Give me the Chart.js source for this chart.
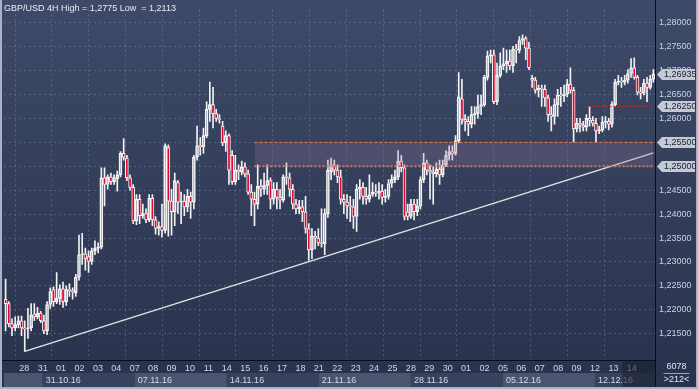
<!DOCTYPE html>
<html>
<head>
<meta charset="utf-8">
<title>GBP/USD 4H</title>
<script src="https://cdn.jsdelivr.net/npm/chart.js@4.4.1/dist/chart.umd.min.js"></script>
<style>
  html, body { margin: 0; padding: 0; background: #2a3450; }
  #chart { display: block; }
</style>
</head>
<body>
<canvas id="chart" width="698" height="389"></canvas>
<script>
// 4H candles, 28.10.16 - 14.12.16
const openP = [
  1.2222,1.2213,1.2171,1.2162,1.2169,1.2177,1.2162,1.2160,1.2162,1.2191,
  1.2185,1.2193,1.2177,1.2156,1.2211,1.2242,1.2217,1.2224,1.2244,1.2217,
  1.2242,1.2240,1.2236,1.2268,1.2315,1.2317,1.2311,1.2301,1.2323,1.2329,
  1.2331,1.2476,1.2462,1.2478,1.2468,1.2474,1.2482,1.2527,1.2517,1.2476,
  1.2456,1.2386,1.2431,1.2397,1.2401,1.2388,1.2433,1.2388,1.2370,1.2374,
  1.2366,1.2539,1.2427,1.2405,1.2466,1.2425,1.2427,1.2415,1.2437,1.2425,
  1.2519,1.2543,1.2541,1.2564,1.2619,1.2629,1.2610,1.2600,1.2584,1.2549,
  1.2564,1.2523,1.2468,1.2492,1.2488,1.2499,1.2484,1.2446,1.2431,1.2421,
  1.2458,1.2452,1.2460,1.2470,1.2431,1.2452,1.2435,1.2429,1.2478,1.2476,
  1.2452,1.2421,1.2411,1.2415,1.2405,1.2370,1.2325,1.2354,1.2350,1.2340,
  1.2338,1.2401,1.2488,1.2503,1.2492,1.2478,1.2431,1.2425,1.2417,1.2415,
  1.2395,1.2452,1.2456,1.2437,1.2431,1.2441,1.2446,1.2444,1.2448,1.2435,
  1.2437,1.2464,1.2472,1.2478,1.2511,1.2497,1.2405,1.2395,1.2421,1.2405,
  1.2417,1.2472,1.2507,1.2492,1.2488,1.2484,1.2494,1.2482,1.2503,1.2523,
  1.2531,1.2527,1.2553,1.2641,1.2598,1.2594,1.2588,1.2608,1.2610,1.2625,
  1.2629,1.2686,1.2731,1.2733,1.2635,1.2690,1.2710,1.2714,1.2720,1.2710,
  1.2745,1.2743,1.2763,1.2767,1.2747,1.2684,1.2680,1.2659,1.2663,1.2661,
  1.2643,1.2608,1.2604,1.2629,1.2649,1.2647,1.2651,1.2672,1.2659,1.2578,
  1.2590,1.2586,1.2582,1.2600,1.2596,1.2590,1.2574,1.2576,1.2592,1.2594,
  1.2588,1.2629,1.2676,1.2678,1.2676,1.2680,1.2694,1.2706,1.2686,1.2655,
  1.2653,1.2674,1.2665,1.2682
];
const highP = [
  1.2264,1.2217,1.2181,1.2185,1.2187,1.2187,1.2177,1.2203,1.2213,1.2213,
  1.2205,1.2197,1.2189,1.2217,1.2246,1.2248,1.2278,1.2252,1.2258,1.2250,
  1.2254,1.2246,1.2274,1.2356,1.2360,1.2329,1.2323,1.2329,1.2344,1.2340,
  1.2497,1.2497,1.2482,1.2486,1.2482,1.2490,1.2531,1.2558,1.2523,1.2482,
  1.2462,1.2441,1.2441,1.2421,1.2411,1.2441,1.2441,1.2395,1.2384,1.2421,
  1.2547,1.2545,1.2452,1.2486,1.2470,1.2446,1.2441,1.2452,1.2446,1.2523,
  1.2584,1.2560,1.2580,1.2635,1.2676,1.2665,1.2619,1.2608,1.2594,1.2574,
  1.2568,1.2533,1.2523,1.2503,1.2511,1.2507,1.2492,1.2462,1.2446,1.2503,
  1.2472,1.2486,1.2503,1.2476,1.2466,1.2466,1.2452,1.2482,1.2507,1.2486,
  1.2462,1.2431,1.2429,1.2429,1.2437,1.2380,1.2370,1.2364,1.2370,1.2411,
  1.2411,1.2513,1.2517,1.2513,1.2503,1.2492,1.2441,1.2441,1.2437,1.2431,
  1.2462,1.2472,1.2466,1.2456,1.2482,1.2466,1.2462,1.2466,1.2462,1.2452,
  1.2472,1.2482,1.2492,1.2533,1.2523,1.2503,1.2421,1.2431,1.2431,1.2431,
  1.2478,1.2527,1.2513,1.2503,1.2499,1.2507,1.2513,1.2513,1.2533,1.2543,
  1.2543,1.2564,1.2696,1.2682,1.2608,1.2604,1.2625,1.2625,1.2649,1.2649,
  1.2690,1.2741,1.2743,1.2743,1.2716,1.2737,1.2747,1.2743,1.2743,1.2751,
  1.2755,1.2771,1.2775,1.2771,1.2759,1.2690,1.2686,1.2670,1.2670,1.2670,
  1.2649,1.2625,1.2641,1.2661,1.2665,1.2670,1.2682,1.2706,1.2665,1.2600,
  1.2600,1.2594,1.2608,1.2625,1.2604,1.2600,1.2584,1.2604,1.2604,1.2600,
  1.2635,1.2682,1.2690,1.2686,1.2690,1.2702,1.2725,1.2727,1.2690,1.2665,
  1.2682,1.2686,1.2690,1.2702
];
const lowP = [
  1.2156,1.2164,1.2146,1.2156,1.2162,1.2146,1.2113,1.2140,1.2156,1.2177,
  1.2181,1.2173,1.2150,1.2148,1.2203,1.2207,1.2213,1.2211,1.2205,1.2209,
  1.2228,1.2222,1.2228,1.2262,1.2295,1.2283,1.2278,1.2295,1.2315,1.2319,
  1.2327,1.2417,1.2452,1.2462,1.2462,1.2448,1.2478,1.2513,1.2470,1.2450,
  1.2380,1.2378,1.2380,1.2391,1.2382,1.2384,1.2376,1.2358,1.2356,1.2352,
  1.2360,1.2354,1.2356,1.2376,1.2401,1.2380,1.2397,1.2405,1.2391,1.2411,
  1.2513,1.2523,1.2527,1.2560,1.2594,1.2580,1.2594,1.2590,1.2543,1.2531,
  1.2462,1.2462,1.2462,1.2472,1.2482,1.2478,1.2441,1.2397,1.2376,1.2411,
  1.2437,1.2441,1.2441,1.2411,1.2421,1.2411,1.2411,1.2425,1.2462,1.2437,
  1.2411,1.2401,1.2401,1.2384,1.2360,1.2303,1.2307,1.2327,1.2334,1.2331,
  1.2315,1.2393,1.2472,1.2482,1.2466,1.2421,1.2401,1.2391,1.2384,1.2370,
  1.2364,1.2431,1.2421,1.2421,1.2425,1.2437,1.2437,1.2431,1.2421,1.2425,
  1.2431,1.2456,1.2466,1.2472,1.2488,1.2388,1.2388,1.2391,1.2388,1.2397,
  1.2411,1.2466,1.2482,1.2431,1.2421,1.2478,1.2462,1.2478,1.2499,1.2513,
  1.2513,1.2523,1.2549,1.2588,1.2574,1.2564,1.2580,1.2588,1.2600,1.2608,
  1.2625,1.2680,1.2716,1.2631,1.2629,1.2686,1.2702,1.2696,1.2702,1.2696,
  1.2716,1.2737,1.2755,1.2723,1.2702,1.2665,1.2653,1.2645,1.2625,1.2625,
  1.2594,1.2574,1.2588,1.2604,1.2625,1.2635,1.2645,1.2653,1.2551,1.2572,
  1.2572,1.2574,1.2574,1.2584,1.2584,1.2551,1.2568,1.2572,1.2580,1.2576,
  1.2582,1.2625,1.2670,1.2665,1.2670,1.2674,1.2686,1.2682,1.2649,1.2641,
  1.2649,1.2635,1.2661,1.2676
];
const closeP = [
  1.2213,1.2171,1.2162,1.2169,1.2177,1.2162,1.2160,1.2162,1.2189,1.2185,
  1.2193,1.2177,1.2156,1.2211,1.2238,1.2217,1.2224,1.2244,1.2217,1.2242,
  1.2240,1.2238,1.2268,1.2315,1.2317,1.2307,1.2301,1.2323,1.2329,1.2331,
  1.2476,1.2462,1.2478,1.2468,1.2476,1.2482,1.2527,1.2519,1.2476,1.2456,
  1.2386,1.2431,1.2397,1.2401,1.2388,1.2433,1.2388,1.2370,1.2374,1.2366,
  1.2543,1.2427,1.2405,1.2470,1.2425,1.2427,1.2415,1.2437,1.2425,1.2519,
  1.2543,1.2541,1.2564,1.2619,1.2629,1.2610,1.2600,1.2598,1.2549,1.2564,
  1.2492,1.2468,1.2492,1.2488,1.2499,1.2484,1.2446,1.2431,1.2421,1.2458,
  1.2452,1.2460,1.2470,1.2431,1.2452,1.2435,1.2429,1.2478,1.2476,1.2452,
  1.2421,1.2411,1.2415,1.2405,1.2370,1.2325,1.2354,1.2350,1.2340,1.2338,
  1.2401,1.2492,1.2503,1.2492,1.2478,1.2431,1.2425,1.2417,1.2415,1.2395,
  1.2452,1.2456,1.2437,1.2431,1.2441,1.2446,1.2444,1.2448,1.2435,1.2437,
  1.2464,1.2472,1.2478,1.2511,1.2497,1.2395,1.2395,1.2421,1.2405,1.2417,
  1.2472,1.2507,1.2492,1.2488,1.2484,1.2494,1.2482,1.2503,1.2523,1.2531,
  1.2527,1.2553,1.2645,1.2598,1.2594,1.2588,1.2608,1.2610,1.2625,1.2629,
  1.2686,1.2731,1.2733,1.2635,1.2690,1.2710,1.2714,1.2720,1.2710,1.2745,
  1.2743,1.2763,1.2767,1.2747,1.2706,1.2680,1.2659,1.2663,1.2661,1.2643,
  1.2608,1.2604,1.2629,1.2649,1.2647,1.2651,1.2672,1.2659,1.2578,1.2590,
  1.2586,1.2582,1.2600,1.2596,1.2590,1.2574,1.2576,1.2592,1.2594,1.2588,
  1.2629,1.2676,1.2678,1.2676,1.2680,1.2694,1.2706,1.2686,1.2655,1.2653,
  1.2674,1.2665,1.2682,1.26935
];

// time axis labels (trading days) and week starts
const dayLabels = ['28','31','01','02','03','04','07','08','09','10','11','14','15','16','17','18',
  '21','22','23','24','25','28','29','30','01','02','05','06','07','08','09','12','13','14'];
const weekLabels = ['31.10.16','07.11.16','14.11.16','21.11.16','28.11.16','05.12.16','12.12.16'];
const weekStartDay = [1, 6, 11, 16, 21, 26, 31];

// drawn objects
const zoneStart = 78;            // candle index where the resistance box begins
const zoneTop = 1.2550;
const zoneBottom = 1.2500;
const levelStart = 183;
const levelPrice = 1.2625;
const trendFrom = { i: 6, price: 1.2113 };
const trendTo = { i: 203, price: 1.2528 };
const yTicks = { min: 1.215, step: 0.005 };
const cornerTop = '6078';
const cornerBottom = '>212<';

const FONT = '"Liberation Sans", Arial, sans-serif';
const fmt = (v, d) => v.toFixed(d).replace('.', ',');

const N = openP.length;
const idx = openP.map((_, i) => i);
const bodies = openP.map((o, i) => [o, closeP[i]]);
const upperWick = openP.map((o, i) => [Math.max(o, closeP[i]), highP[i]]);
const lowerWick = openP.map((o, i) => [lowP[i], Math.min(o, closeP[i])]);
const bodyColors = openP.map((o, i) => closeP[i] >= o ? 'rgba(0,0,0,0)' : '#e3062f');
const zoneTopLine = idx.map(i => i >= zoneStart ? zoneTop : null);
const zoneBottomLine = idx.map(i => i >= zoneStart ? zoneBottom : null);
const levelLine = idx.map(i => i >= levelStart ? levelPrice : null);
const trendLine = idx.map(i => i === trendFrom.i ? trendFrom.price : (i === trendTo.i ? trendTo.price : null));
const tagValues = [closeP[N - 1], levelPrice, zoneTop, zoneBottom];
const maxHigh = Math.max(...highP);
const minLow = Math.min(...lowP);
const gridColor = 'rgba(125,140,172,0.45)';

const deco = {
  id: 'deco',
  beforeDraw(chart) {
    const { ctx, width, height } = chart;
    const g = ctx.createLinearGradient(0, 0, 0, height);
    g.addColorStop(0, '#3e4a68');
    g.addColorStop(1, '#29324c');
    ctx.save();
    ctx.fillStyle = g;
    ctx.fillRect(0, 0, width, height);
    ctx.restore();
  },
  afterDraw(chart) {
    const { ctx, chartArea: a, width, height } = chart;
    const ys = chart.scales.y, ds = chart.scales.d;
    ctx.save();

    // week row under the day numbers
    const rowTop = a.bottom + 13, rowH = 14;
    const edges = [a.left, ...weekStartDay.map(v => ds.getPixelForValue(v)), a.right];
    for (let k = 0; k < edges.length - 1; k++) {
      ctx.fillStyle = k % 2 === 0 ? '#4a556f' : '#36425e';
      ctx.fillRect(edges[k], rowTop, edges[k + 1] - edges[k], rowH);
    }
    ctx.font = '9px ' + FONT;
    ctx.textBaseline = 'middle';
    ctx.textAlign = 'left';
    ctx.fillStyle = '#d4dbe8';
    weekLabels.forEach((t, k) => ctx.fillText(t, edges[k + 1] + 3, rowTop + rowH / 2 + 0.5));

    // current day shade
    const x0 = ds.getPixelForValue(dayLabels.length - 1.5);
    ctx.fillStyle = 'rgba(26,32,50,0.6)';
    ctx.fillRect(x0, a.bottom + 1, a.right - x0, rowTop + rowH - a.bottom - 1);

    // separators
    ctx.fillStyle = '#0a0e18';
    ctx.fillRect(a.right, 0, 1, rowTop + rowH);
    ctx.fillRect(0, a.bottom, a.right, 1);

    // price tags on the axis
    tagValues.forEach(v => {
      const py = Math.round(ys.getPixelForValue(v)) + 0.5;
      const x = a.right + 2;
      ctx.beginPath();
      ctx.moveTo(x, py);
      ctx.lineTo(x + 5, py - 5.5);
      ctx.lineTo(x + 38, py - 5.5);
      ctx.lineTo(x + 38, py + 5.5);
      ctx.lineTo(x + 5, py + 5.5);
      ctx.closePath();
      ctx.fillStyle = '#c5c9d1';
      ctx.fill();
      ctx.fillStyle = '#18203a';
      ctx.fillText(fmt(v, 5), x + 7, py + 0.5);
    });

    // corner box
    ctx.textAlign = 'center';
    ctx.fillStyle = '#dfe4ee';
    const cx = (a.right + width) / 2;
    ctx.fillText(cornerTop, cx, a.bottom + 7);
    ctx.fillText(cornerBottom, cx, rowTop + 7);
    ctx.fillStyle = '#9aa4b8';
    ctx.fillRect(cx - 13, rowTop, 26, 1);

    // title
    ctx.textAlign = 'left';
    ctx.textBaseline = 'alphabetic';
    ctx.font = '9px ' + FONT;
    ctx.fillStyle = '#e8ecf3';
    ctx.fillText('GBP/USD 4H High = ' + fmt(maxHigh, 4) + ' Low  = ' + fmt(minLow, 4), 4, 11);

    // frame
    ctx.fillStyle = '#a9b3c5';
    ctx.fillRect(0, 0, 2, height);
    ctx.fillRect(width - 2, 0, 2, height);
    ctx.fillRect(0, height - 2, width, 2);
    ctx.restore();
  }
};

new Chart(document.getElementById('chart'), {
  type: 'bar',
  data: {
    labels: idx,
    datasets: [
      { label: 'wick high', data: upperWick, backgroundColor: '#f2f2f2', barThickness: 1,
        grouped: false, order: 5, xAxisID: 'x', yAxisID: 'y' },
      { label: 'wick low', data: lowerWick, backgroundColor: '#f2f2f2', barThickness: 1,
        grouped: false, order: 5, xAxisID: 'x', yAxisID: 'y' },
      { label: 'body', data: bodies, backgroundColor: bodyColors, borderColor: '#f4f4f4',
        borderWidth: 1, borderSkipped: false, barThickness: 3, minBarLength: 1,
        grouped: false, order: 4, xAxisID: 'x', yAxisID: 'y' },
      { type: 'line', label: 'zone top', data: zoneTopLine, borderColor: '#f27c3c', borderWidth: 1,
        borderDash: [3, 2], pointRadius: 0, fill: false, order: 1, xAxisID: 'x', yAxisID: 'y' },
      { type: 'line', label: 'zone bottom', data: zoneBottomLine, borderColor: '#d8765a', borderWidth: 2,
        borderDash: [2, 2], pointRadius: 0, fill: '-1', backgroundColor: 'rgba(150,115,150,0.26)',
        order: 1, xAxisID: 'x', yAxisID: 'y' },
      { type: 'line', label: 'trend', data: trendLine, borderColor: '#e2e2e2', borderWidth: 1.5,
        pointRadius: 0, spanGaps: true, order: 2, xAxisID: 'x', yAxisID: 'y' },
      { type: 'line', label: 'level', data: levelLine, borderColor: '#d42a2a', borderWidth: 1,
        borderDash: [2, 2], pointRadius: 0, order: 2, xAxisID: 'x', yAxisID: 'y' }
    ]
  },
  options: {
    responsive: false,
    animation: false,
    devicePixelRatio: 1,
    events: [],
    layout: { padding: { left: 4, right: 3, top: 0, bottom: 2 } },
    plugins: { legend: { display: false }, tooltip: { enabled: false } },
    scales: {
      x: { type: 'category', display: false },
      d: {
        type: 'linear', position: 'bottom', min: -0.58, max: 33.74,
        afterFit: s => { s.height = 27; },
        ticks: {
          stepSize: 1, autoSkip: false, includeBounds: false, maxRotation: 0, padding: 3,
          color: '#d0d8e6', font: { family: FONT, size: 9 },
          callback: v => (Number.isInteger(v) && dayLabels[v]) ? dayLabels[v] : ''
        },
        grid: {
          drawTicks: false,
          color: c => (c.tick && c.tick.value % 2 === 0) ? gridColor : 'rgba(0,0,0,0)'
        },
        border: { color: '#0a0e18', dash: [2, 3] }
      },
      y: {
        type: 'linear', position: 'right', min: 1.2095, max: 1.2828,
        afterFit: s => { s.width = 40; },
        ticks: {
          stepSize: yTicks.step, includeBounds: false, padding: 4,
          color: '#c8d2e4', font: { family: FONT, size: 9 },
          callback: v => v < yTicks.min - 1e-6 ? '' : fmt(v, 5)
        },
        grid: {
          drawTicks: false,
          color: c => (c.tick && c.tick.value < yTicks.min - 1e-6) ? 'rgba(0,0,0,0)' : gridColor
        },
        border: { color: '#0a0e18', dash: [2, 3] }
      }
    }
  },
  plugins: [deco]
});
</script>
</body>
</html>
